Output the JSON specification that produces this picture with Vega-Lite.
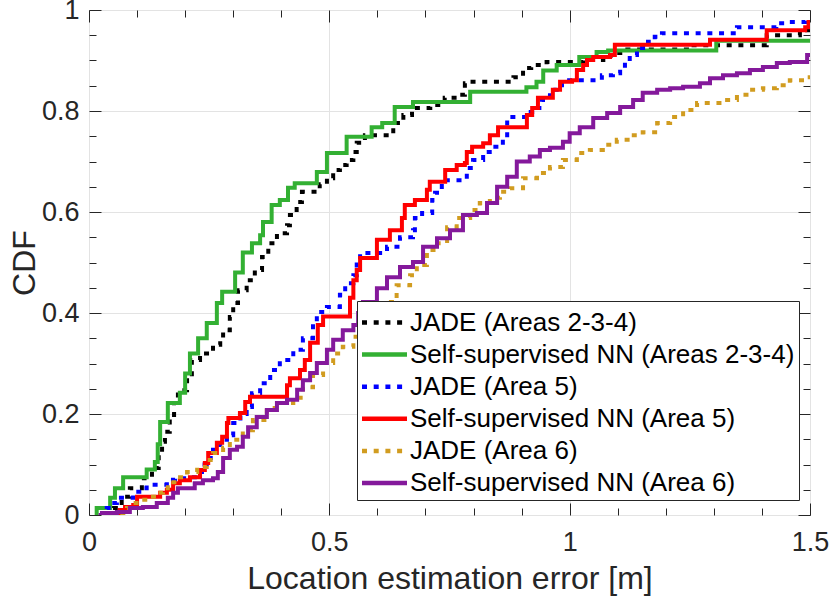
{
  "$schema": "https://vega.github.io/schema/vega-lite/v6.json",
  "autosize": {"type": "none"},
  "padding": {"left": 89, "top": 10, "right": 20, "bottom": 90},
  "width": 721,
  "height": 505,
  "background": "white",
  "config": {
    "view": {"stroke": "#262626", "strokeWidth": 1},
    "font": "Liberation Sans",
    "axis": {"labelFont": "Liberation Sans", "titleFont": "Liberation Sans", "labelColor": "#262626", "titleColor": "#262626", "tickColor": "#262626", "domainColor": "#262626", "titleFontWeight": "normal", "labelFontSize": 27, "titleFontSize": 32, "gridColor": "#e3e3e3", "gridWidth": 1, "labelFlush": false, "labelOverlap": false, "labelBound": false}
  },
  "datasets": {
    "cdf": [
      {"s":"JADE (Areas 2-3-4)","x":0.04,"y":0.0},{"s":"JADE (Areas 2-3-4)","x":0.05,"y":0.014},{"s":"JADE (Areas 2-3-4)","x":0.068,"y":0.036},{"s":"JADE (Areas 2-3-4)","x":0.085,"y":0.053},{"s":"JADE (Areas 2-3-4)","x":0.11,"y":0.073},{"s":"JADE (Areas 2-3-4)","x":0.131,"y":0.093},{"s":"JADE (Areas 2-3-4)","x":0.145,"y":0.12},{"s":"JADE (Areas 2-3-4)","x":0.152,"y":0.145},{"s":"JADE (Areas 2-3-4)","x":0.158,"y":0.165},{"s":"JADE (Areas 2-3-4)","x":0.168,"y":0.198},{"s":"JADE (Areas 2-3-4)","x":0.177,"y":0.222},{"s":"JADE (Areas 2-3-4)","x":0.185,"y":0.247},{"s":"JADE (Areas 2-3-4)","x":0.204,"y":0.273},{"s":"JADE (Areas 2-3-4)","x":0.214,"y":0.307},{"s":"JADE (Areas 2-3-4)","x":0.231,"y":0.32},{"s":"JADE (Areas 2-3-4)","x":0.258,"y":0.337},{"s":"JADE (Areas 2-3-4)","x":0.273,"y":0.35},{"s":"JADE (Areas 2-3-4)","x":0.279,"y":0.366},{"s":"JADE (Areas 2-3-4)","x":0.293,"y":0.392},{"s":"JADE (Areas 2-3-4)","x":0.3,"y":0.42},{"s":"JADE (Areas 2-3-4)","x":0.31,"y":0.445},{"s":"JADE (Areas 2-3-4)","x":0.328,"y":0.465},{"s":"JADE (Areas 2-3-4)","x":0.345,"y":0.485},{"s":"JADE (Areas 2-3-4)","x":0.36,"y":0.511},{"s":"JADE (Areas 2-3-4)","x":0.373,"y":0.538},{"s":"JADE (Areas 2-3-4)","x":0.391,"y":0.558},{"s":"JADE (Areas 2-3-4)","x":0.412,"y":0.574},{"s":"JADE (Areas 2-3-4)","x":0.418,"y":0.594},{"s":"JADE (Areas 2-3-4)","x":0.432,"y":0.62},{"s":"JADE (Areas 2-3-4)","x":0.443,"y":0.64},{"s":"JADE (Areas 2-3-4)","x":0.48,"y":0.655},{"s":"JADE (Areas 2-3-4)","x":0.495,"y":0.667},{"s":"JADE (Areas 2-3-4)","x":0.508,"y":0.683},{"s":"JADE (Areas 2-3-4)","x":0.522,"y":0.693},{"s":"JADE (Areas 2-3-4)","x":0.536,"y":0.703},{"s":"JADE (Areas 2-3-4)","x":0.55,"y":0.719},{"s":"JADE (Areas 2-3-4)","x":0.557,"y":0.737},{"s":"JADE (Areas 2-3-4)","x":0.574,"y":0.752},{"s":"JADE (Areas 2-3-4)","x":0.633,"y":0.776},{"s":"JADE (Areas 2-3-4)","x":0.654,"y":0.792},{"s":"JADE (Areas 2-3-4)","x":0.672,"y":0.806},{"s":"JADE (Areas 2-3-4)","x":0.71,"y":0.812},{"s":"JADE (Areas 2-3-4)","x":0.74,"y":0.826},{"s":"JADE (Areas 2-3-4)","x":0.765,"y":0.832},{"s":"JADE (Areas 2-3-4)","x":0.782,"y":0.855},{"s":"JADE (Areas 2-3-4)","x":0.786,"y":0.858},{"s":"JADE (Areas 2-3-4)","x":0.883,"y":0.867},{"s":"JADE (Areas 2-3-4)","x":0.903,"y":0.885},{"s":"JADE (Areas 2-3-4)","x":0.92,"y":0.891},{"s":"JADE (Areas 2-3-4)","x":0.952,"y":0.897},{"s":"JADE (Areas 2-3-4)","x":1.028,"y":0.901},{"s":"JADE (Areas 2-3-4)","x":1.07,"y":0.91},{"s":"JADE (Areas 2-3-4)","x":1.098,"y":0.915},{"s":"JADE (Areas 2-3-4)","x":1.12,"y":0.922},{"s":"JADE (Areas 2-3-4)","x":1.244,"y":0.93},{"s":"JADE (Areas 2-3-4)","x":1.41,"y":0.95},{"s":"JADE (Areas 2-3-4)","x":1.479,"y":0.96},{"s":"JADE (Areas 2-3-4)","x":1.5,"y":0.964},

      {"s":"Self-supervised NN (Areas 2-3-4)","x":0.015,"y":0.0},{"s":"Self-supervised NN (Areas 2-3-4)","x":0.016,"y":0.014},{"s":"Self-supervised NN (Areas 2-3-4)","x":0.044,"y":0.034},{"s":"Self-supervised NN (Areas 2-3-4)","x":0.054,"y":0.053},{"s":"Self-supervised NN (Areas 2-3-4)","x":0.071,"y":0.075},{"s":"Self-supervised NN (Areas 2-3-4)","x":0.12,"y":0.09},{"s":"Self-supervised NN (Areas 2-3-4)","x":0.137,"y":0.105},{"s":"Self-supervised NN (Areas 2-3-4)","x":0.143,"y":0.14},{"s":"Self-supervised NN (Areas 2-3-4)","x":0.148,"y":0.184},{"s":"Self-supervised NN (Areas 2-3-4)","x":0.164,"y":0.222},{"s":"Self-supervised NN (Areas 2-3-4)","x":0.189,"y":0.242},{"s":"Self-supervised NN (Areas 2-3-4)","x":0.2,"y":0.28},{"s":"Self-supervised NN (Areas 2-3-4)","x":0.21,"y":0.32},{"s":"Self-supervised NN (Areas 2-3-4)","x":0.227,"y":0.35},{"s":"Self-supervised NN (Areas 2-3-4)","x":0.245,"y":0.38},{"s":"Self-supervised NN (Areas 2-3-4)","x":0.266,"y":0.42},{"s":"Self-supervised NN (Areas 2-3-4)","x":0.277,"y":0.442},{"s":"Self-supervised NN (Areas 2-3-4)","x":0.304,"y":0.48},{"s":"Self-supervised NN (Areas 2-3-4)","x":0.32,"y":0.52},{"s":"Self-supervised NN (Areas 2-3-4)","x":0.339,"y":0.538},{"s":"Self-supervised NN (Areas 2-3-4)","x":0.356,"y":0.554},{"s":"Self-supervised NN (Areas 2-3-4)","x":0.362,"y":0.58},{"s":"Self-supervised NN (Areas 2-3-4)","x":0.38,"y":0.614},{"s":"Self-supervised NN (Areas 2-3-4)","x":0.397,"y":0.624},{"s":"Self-supervised NN (Areas 2-3-4)","x":0.414,"y":0.648},{"s":"Self-supervised NN (Areas 2-3-4)","x":0.428,"y":0.657},{"s":"Self-supervised NN (Areas 2-3-4)","x":0.474,"y":0.679},{"s":"Self-supervised NN (Areas 2-3-4)","x":0.495,"y":0.717},{"s":"Self-supervised NN (Areas 2-3-4)","x":0.536,"y":0.749},{"s":"Self-supervised NN (Areas 2-3-4)","x":0.588,"y":0.768},{"s":"Self-supervised NN (Areas 2-3-4)","x":0.61,"y":0.776},{"s":"Self-supervised NN (Areas 2-3-4)","x":0.636,"y":0.808},{"s":"Self-supervised NN (Areas 2-3-4)","x":0.674,"y":0.818},{"s":"Self-supervised NN (Areas 2-3-4)","x":0.793,"y":0.838},{"s":"Self-supervised NN (Areas 2-3-4)","x":0.91,"y":0.847},{"s":"Self-supervised NN (Areas 2-3-4)","x":0.931,"y":0.858},{"s":"Self-supervised NN (Areas 2-3-4)","x":0.945,"y":0.88},{"s":"Self-supervised NN (Areas 2-3-4)","x":0.973,"y":0.891},{"s":"Self-supervised NN (Areas 2-3-4)","x":1.02,"y":0.907},{"s":"Self-supervised NN (Areas 2-3-4)","x":1.056,"y":0.917},{"s":"Self-supervised NN (Areas 2-3-4)","x":1.08,"y":0.92},{"s":"Self-supervised NN (Areas 2-3-4)","x":1.305,"y":0.939},{"s":"Self-supervised NN (Areas 2-3-4)","x":1.5,"y":0.939},

      {"s":"JADE (Area 5)","x":0.025,"y":0.0},{"s":"JADE (Area 5)","x":0.037,"y":0.014},{"s":"JADE (Area 5)","x":0.048,"y":0.024},{"s":"JADE (Area 5)","x":0.058,"y":0.034},{"s":"JADE (Area 5)","x":0.092,"y":0.046},{"s":"JADE (Area 5)","x":0.11,"y":0.053},{"s":"JADE (Area 5)","x":0.12,"y":0.06},{"s":"JADE (Area 5)","x":0.162,"y":0.07},{"s":"JADE (Area 5)","x":0.179,"y":0.073},{"s":"JADE (Area 5)","x":0.21,"y":0.075},{"s":"JADE (Area 5)","x":0.227,"y":0.085},{"s":"JADE (Area 5)","x":0.235,"y":0.1},{"s":"JADE (Area 5)","x":0.245,"y":0.113},{"s":"JADE (Area 5)","x":0.258,"y":0.129},{"s":"JADE (Area 5)","x":0.273,"y":0.149},{"s":"JADE (Area 5)","x":0.287,"y":0.158},{"s":"JADE (Area 5)","x":0.3,"y":0.182},{"s":"JADE (Area 5)","x":0.315,"y":0.2},{"s":"JADE (Area 5)","x":0.328,"y":0.214},{"s":"JADE (Area 5)","x":0.339,"y":0.241},{"s":"JADE (Area 5)","x":0.356,"y":0.261},{"s":"JADE (Area 5)","x":0.377,"y":0.287},{"s":"JADE (Area 5)","x":0.397,"y":0.307},{"s":"JADE (Area 5)","x":0.425,"y":0.327},{"s":"JADE (Area 5)","x":0.445,"y":0.35},{"s":"JADE (Area 5)","x":0.466,"y":0.382},{"s":"JADE (Area 5)","x":0.474,"y":0.402},{"s":"JADE (Area 5)","x":0.495,"y":0.412},{"s":"JADE (Area 5)","x":0.522,"y":0.436},{"s":"JADE (Area 5)","x":0.533,"y":0.459},{"s":"JADE (Area 5)","x":0.55,"y":0.475},{"s":"JADE (Area 5)","x":0.557,"y":0.501},{"s":"JADE (Area 5)","x":0.564,"y":0.519},{"s":"JADE (Area 5)","x":0.62,"y":0.531},{"s":"JADE (Area 5)","x":0.647,"y":0.55},{"s":"JADE (Area 5)","x":0.674,"y":0.564},{"s":"JADE (Area 5)","x":0.678,"y":0.588},{"s":"JADE (Area 5)","x":0.693,"y":0.598},{"s":"JADE (Area 5)","x":0.714,"y":0.624},{"s":"JADE (Area 5)","x":0.72,"y":0.638},{"s":"JADE (Area 5)","x":0.734,"y":0.663},{"s":"JADE (Area 5)","x":0.786,"y":0.687},{"s":"JADE (Area 5)","x":0.799,"y":0.703},{"s":"JADE (Area 5)","x":0.82,"y":0.719},{"s":"JADE (Area 5)","x":0.84,"y":0.729},{"s":"JADE (Area 5)","x":0.861,"y":0.752},{"s":"JADE (Area 5)","x":0.87,"y":0.788},{"s":"JADE (Area 5)","x":0.907,"y":0.798},{"s":"JADE (Area 5)","x":0.922,"y":0.806},{"s":"JADE (Area 5)","x":0.942,"y":0.822},{"s":"JADE (Area 5)","x":0.959,"y":0.842},{"s":"JADE (Area 5)","x":0.973,"y":0.851},{"s":"JADE (Area 5)","x":0.984,"y":0.861},{"s":"JADE (Area 5)","x":1.067,"y":0.871},{"s":"JADE (Area 5)","x":1.09,"y":0.875},{"s":"JADE (Area 5)","x":1.105,"y":0.885},{"s":"JADE (Area 5)","x":1.115,"y":0.897},{"s":"JADE (Area 5)","x":1.125,"y":0.911},{"s":"JADE (Area 5)","x":1.14,"y":0.925},{"s":"JADE (Area 5)","x":1.163,"y":0.937},{"s":"JADE (Area 5)","x":1.177,"y":0.947},{"s":"JADE (Area 5)","x":1.192,"y":0.954},{"s":"JADE (Area 5)","x":1.348,"y":0.966},{"s":"JADE (Area 5)","x":1.43,"y":0.974},{"s":"JADE (Area 5)","x":1.458,"y":0.976},{"s":"JADE (Area 5)","x":1.49,"y":0.98},{"s":"JADE (Area 5)","x":1.5,"y":0.98},

      {"s":"Self-supervised NN (Area 5)","x":0.055,"y":0.0},{"s":"Self-supervised NN (Area 5)","x":0.064,"y":0.01},{"s":"Self-supervised NN (Area 5)","x":0.075,"y":0.016},{"s":"Self-supervised NN (Area 5)","x":0.092,"y":0.02},{"s":"Self-supervised NN (Area 5)","x":0.1,"y":0.036},{"s":"Self-supervised NN (Area 5)","x":0.148,"y":0.044},{"s":"Self-supervised NN (Area 5)","x":0.162,"y":0.05},{"s":"Self-supervised NN (Area 5)","x":0.175,"y":0.063},{"s":"Self-supervised NN (Area 5)","x":0.189,"y":0.069},{"s":"Self-supervised NN (Area 5)","x":0.21,"y":0.075},{"s":"Self-supervised NN (Area 5)","x":0.231,"y":0.089},{"s":"Self-supervised NN (Area 5)","x":0.241,"y":0.103},{"s":"Self-supervised NN (Area 5)","x":0.248,"y":0.123},{"s":"Self-supervised NN (Area 5)","x":0.266,"y":0.143},{"s":"Self-supervised NN (Area 5)","x":0.277,"y":0.155},{"s":"Self-supervised NN (Area 5)","x":0.287,"y":0.182},{"s":"Self-supervised NN (Area 5)","x":0.29,"y":0.192},{"s":"Self-supervised NN (Area 5)","x":0.314,"y":0.202},{"s":"Self-supervised NN (Area 5)","x":0.325,"y":0.224},{"s":"Self-supervised NN (Area 5)","x":0.335,"y":0.234},{"s":"Self-supervised NN (Area 5)","x":0.412,"y":0.257},{"s":"Self-supervised NN (Area 5)","x":0.418,"y":0.271},{"s":"Self-supervised NN (Area 5)","x":0.439,"y":0.287},{"s":"Self-supervised NN (Area 5)","x":0.449,"y":0.307},{"s":"Self-supervised NN (Area 5)","x":0.46,"y":0.341},{"s":"Self-supervised NN (Area 5)","x":0.476,"y":0.376},{"s":"Self-supervised NN (Area 5)","x":0.487,"y":0.393},{"s":"Self-supervised NN (Area 5)","x":0.543,"y":0.43},{"s":"Self-supervised NN (Area 5)","x":0.55,"y":0.465},{"s":"Self-supervised NN (Area 5)","x":0.557,"y":0.485},{"s":"Self-supervised NN (Area 5)","x":0.564,"y":0.509},{"s":"Self-supervised NN (Area 5)","x":0.599,"y":0.545},{"s":"Self-supervised NN (Area 5)","x":0.626,"y":0.564},{"s":"Self-supervised NN (Area 5)","x":0.651,"y":0.588},{"s":"Self-supervised NN (Area 5)","x":0.657,"y":0.614},{"s":"Self-supervised NN (Area 5)","x":0.678,"y":0.624},{"s":"Self-supervised NN (Area 5)","x":0.703,"y":0.644},{"s":"Self-supervised NN (Area 5)","x":0.709,"y":0.66},{"s":"Self-supervised NN (Area 5)","x":0.741,"y":0.683},{"s":"Self-supervised NN (Area 5)","x":0.765,"y":0.693},{"s":"Self-supervised NN (Area 5)","x":0.782,"y":0.697},{"s":"Self-supervised NN (Area 5)","x":0.786,"y":0.719},{"s":"Self-supervised NN (Area 5)","x":0.797,"y":0.729},{"s":"Self-supervised NN (Area 5)","x":0.82,"y":0.736},{"s":"Self-supervised NN (Area 5)","x":0.834,"y":0.752},{"s":"Self-supervised NN (Area 5)","x":0.851,"y":0.768},{"s":"Self-supervised NN (Area 5)","x":0.911,"y":0.792},{"s":"Self-supervised NN (Area 5)","x":0.922,"y":0.806},{"s":"Self-supervised NN (Area 5)","x":0.934,"y":0.826},{"s":"Self-supervised NN (Area 5)","x":0.965,"y":0.842},{"s":"Self-supervised NN (Area 5)","x":0.98,"y":0.858},{"s":"Self-supervised NN (Area 5)","x":1.005,"y":0.861},{"s":"Self-supervised NN (Area 5)","x":1.015,"y":0.881},{"s":"Self-supervised NN (Area 5)","x":1.028,"y":0.891},{"s":"Self-supervised NN (Area 5)","x":1.036,"y":0.901},{"s":"Self-supervised NN (Area 5)","x":1.049,"y":0.907},{"s":"Self-supervised NN (Area 5)","x":1.084,"y":0.911},{"s":"Self-supervised NN (Area 5)","x":1.094,"y":0.931},{"s":"Self-supervised NN (Area 5)","x":1.292,"y":0.941},{"s":"Self-supervised NN (Area 5)","x":1.41,"y":0.96},{"s":"Self-supervised NN (Area 5)","x":1.49,"y":0.966},{"s":"Self-supervised NN (Area 5)","x":1.497,"y":0.976},{"s":"Self-supervised NN (Area 5)","x":1.5,"y":0.976},

      {"s":"JADE (Area 6)","x":0.045,"y":0.0},{"s":"JADE (Area 6)","x":0.058,"y":0.004},{"s":"JADE (Area 6)","x":0.079,"y":0.014},{"s":"JADE (Area 6)","x":0.092,"y":0.024},{"s":"JADE (Area 6)","x":0.11,"y":0.03},{"s":"JADE (Area 6)","x":0.127,"y":0.036},{"s":"JADE (Area 6)","x":0.143,"y":0.044},{"s":"JADE (Area 6)","x":0.154,"y":0.053},{"s":"JADE (Area 6)","x":0.164,"y":0.065},{"s":"JADE (Area 6)","x":0.185,"y":0.075},{"s":"JADE (Area 6)","x":0.204,"y":0.085},{"s":"JADE (Area 6)","x":0.225,"y":0.095},{"s":"JADE (Area 6)","x":0.245,"y":0.109},{"s":"JADE (Area 6)","x":0.258,"y":0.123},{"s":"JADE (Area 6)","x":0.279,"y":0.133},{"s":"JADE (Area 6)","x":0.293,"y":0.149},{"s":"JADE (Area 6)","x":0.32,"y":0.168},{"s":"JADE (Area 6)","x":0.341,"y":0.188},{"s":"JADE (Area 6)","x":0.37,"y":0.212},{"s":"JADE (Area 6)","x":0.397,"y":0.222},{"s":"JADE (Area 6)","x":0.425,"y":0.232},{"s":"JADE (Area 6)","x":0.445,"y":0.253},{"s":"JADE (Area 6)","x":0.466,"y":0.277},{"s":"JADE (Area 6)","x":0.487,"y":0.301},{"s":"JADE (Area 6)","x":0.508,"y":0.32},{"s":"JADE (Area 6)","x":0.528,"y":0.333},{"s":"JADE (Area 6)","x":0.55,"y":0.353},{"s":"JADE (Area 6)","x":0.58,"y":0.39},{"s":"JADE (Area 6)","x":0.612,"y":0.422},{"s":"JADE (Area 6)","x":0.64,"y":0.455},{"s":"JADE (Area 6)","x":0.668,"y":0.475},{"s":"JADE (Area 6)","x":0.682,"y":0.495},{"s":"JADE (Area 6)","x":0.703,"y":0.525},{"s":"JADE (Area 6)","x":0.724,"y":0.538},{"s":"JADE (Area 6)","x":0.745,"y":0.57},{"s":"JADE (Area 6)","x":0.765,"y":0.588},{"s":"JADE (Area 6)","x":0.793,"y":0.604},{"s":"JADE (Area 6)","x":0.813,"y":0.618},{"s":"JADE (Area 6)","x":0.834,"y":0.628},{"s":"JADE (Area 6)","x":0.855,"y":0.64},{"s":"JADE (Area 6)","x":0.876,"y":0.647},{"s":"JADE (Area 6)","x":0.903,"y":0.667},{"s":"JADE (Area 6)","x":0.932,"y":0.677},{"s":"JADE (Area 6)","x":0.959,"y":0.689},{"s":"JADE (Area 6)","x":0.986,"y":0.703},{"s":"JADE (Area 6)","x":1.015,"y":0.717},{"s":"JADE (Area 6)","x":1.042,"y":0.723},{"s":"JADE (Area 6)","x":1.069,"y":0.733},{"s":"JADE (Area 6)","x":1.098,"y":0.743},{"s":"JADE (Area 6)","x":1.125,"y":0.752},{"s":"JADE (Area 6)","x":1.152,"y":0.758},{"s":"JADE (Area 6)","x":1.182,"y":0.776},{"s":"JADE (Area 6)","x":1.209,"y":0.788},{"s":"JADE (Area 6)","x":1.236,"y":0.802},{"s":"JADE (Area 6)","x":1.265,"y":0.816},{"s":"JADE (Area 6)","x":1.319,"y":0.822},{"s":"JADE (Area 6)","x":1.348,"y":0.832},{"s":"JADE (Area 6)","x":1.375,"y":0.842},{"s":"JADE (Area 6)","x":1.402,"y":0.845},{"s":"JADE (Area 6)","x":1.431,"y":0.851},{"s":"JADE (Area 6)","x":1.458,"y":0.861},{"s":"JADE (Area 6)","x":1.494,"y":0.867},{"s":"JADE (Area 6)","x":1.5,"y":0.867},

      {"s":"Self-supervised NN (Area 6)","x":0.02,"y":0.0},{"s":"Self-supervised NN (Area 6)","x":0.027,"y":0.004},{"s":"Self-supervised NN (Area 6)","x":0.058,"y":0.006},{"s":"Self-supervised NN (Area 6)","x":0.085,"y":0.014},{"s":"Self-supervised NN (Area 6)","x":0.112,"y":0.016},{"s":"Self-supervised NN (Area 6)","x":0.141,"y":0.024},{"s":"Self-supervised NN (Area 6)","x":0.164,"y":0.034},{"s":"Self-supervised NN (Area 6)","x":0.175,"y":0.044},{"s":"Self-supervised NN (Area 6)","x":0.185,"y":0.053},{"s":"Self-supervised NN (Area 6)","x":0.22,"y":0.063},{"s":"Self-supervised NN (Area 6)","x":0.237,"y":0.069},{"s":"Self-supervised NN (Area 6)","x":0.258,"y":0.073},{"s":"Self-supervised NN (Area 6)","x":0.268,"y":0.085},{"s":"Self-supervised NN (Area 6)","x":0.279,"y":0.113},{"s":"Self-supervised NN (Area 6)","x":0.293,"y":0.129},{"s":"Self-supervised NN (Area 6)","x":0.308,"y":0.135},{"s":"Self-supervised NN (Area 6)","x":0.32,"y":0.155},{"s":"Self-supervised NN (Area 6)","x":0.331,"y":0.174},{"s":"Self-supervised NN (Area 6)","x":0.349,"y":0.194},{"s":"Self-supervised NN (Area 6)","x":0.37,"y":0.208},{"s":"Self-supervised NN (Area 6)","x":0.391,"y":0.222},{"s":"Self-supervised NN (Area 6)","x":0.412,"y":0.228},{"s":"Self-supervised NN (Area 6)","x":0.433,"y":0.248},{"s":"Self-supervised NN (Area 6)","x":0.445,"y":0.267},{"s":"Self-supervised NN (Area 6)","x":0.46,"y":0.281},{"s":"Self-supervised NN (Area 6)","x":0.474,"y":0.301},{"s":"Self-supervised NN (Area 6)","x":0.495,"y":0.327},{"s":"Self-supervised NN (Area 6)","x":0.508,"y":0.347},{"s":"Self-supervised NN (Area 6)","x":0.528,"y":0.366},{"s":"Self-supervised NN (Area 6)","x":0.55,"y":0.376},{"s":"Self-supervised NN (Area 6)","x":0.56,"y":0.4},{"s":"Self-supervised NN (Area 6)","x":0.57,"y":0.422},{"s":"Self-supervised NN (Area 6)","x":0.599,"y":0.449},{"s":"Self-supervised NN (Area 6)","x":0.62,"y":0.471},{"s":"Self-supervised NN (Area 6)","x":0.647,"y":0.491},{"s":"Self-supervised NN (Area 6)","x":0.674,"y":0.501},{"s":"Self-supervised NN (Area 6)","x":0.695,"y":0.531},{"s":"Self-supervised NN (Area 6)","x":0.724,"y":0.548},{"s":"Self-supervised NN (Area 6)","x":0.751,"y":0.564},{"s":"Self-supervised NN (Area 6)","x":0.778,"y":0.594},{"s":"Self-supervised NN (Area 6)","x":0.807,"y":0.598},{"s":"Self-supervised NN (Area 6)","x":0.828,"y":0.618},{"s":"Self-supervised NN (Area 6)","x":0.849,"y":0.65},{"s":"Self-supervised NN (Area 6)","x":0.87,"y":0.67},{"s":"Self-supervised NN (Area 6)","x":0.89,"y":0.7},{"s":"Self-supervised NN (Area 6)","x":0.917,"y":0.71},{"s":"Self-supervised NN (Area 6)","x":0.938,"y":0.723},{"s":"Self-supervised NN (Area 6)","x":0.959,"y":0.727},{"s":"Self-supervised NN (Area 6)","x":0.986,"y":0.739},{"s":"Self-supervised NN (Area 6)","x":1.0,"y":0.756},{"s":"Self-supervised NN (Area 6)","x":1.021,"y":0.768},{"s":"Self-supervised NN (Area 6)","x":1.049,"y":0.786},{"s":"Self-supervised NN (Area 6)","x":1.078,"y":0.796},{"s":"Self-supervised NN (Area 6)","x":1.105,"y":0.808},{"s":"Self-supervised NN (Area 6)","x":1.132,"y":0.822},{"s":"Self-supervised NN (Area 6)","x":1.152,"y":0.836},{"s":"Self-supervised NN (Area 6)","x":1.182,"y":0.842},{"s":"Self-supervised NN (Area 6)","x":1.209,"y":0.845},{"s":"Self-supervised NN (Area 6)","x":1.236,"y":0.848},{"s":"Self-supervised NN (Area 6)","x":1.271,"y":0.855},{"s":"Self-supervised NN (Area 6)","x":1.292,"y":0.865},{"s":"Self-supervised NN (Area 6)","x":1.319,"y":0.871},{"s":"Self-supervised NN (Area 6)","x":1.348,"y":0.875},{"s":"Self-supervised NN (Area 6)","x":1.375,"y":0.881},{"s":"Self-supervised NN (Area 6)","x":1.402,"y":0.887},{"s":"Self-supervised NN (Area 6)","x":1.431,"y":0.895},{"s":"Self-supervised NN (Area 6)","x":1.458,"y":0.897},{"s":"Self-supervised NN (Area 6)","x":1.494,"y":0.911},{"s":"Self-supervised NN (Area 6)","x":1.5,"y":0.911}
    ]
  },
  "data": {"name": "cdf"},
  "resolve": {"axis": {"x": "independent", "y": "independent"}},
  "layer": [
    {
      "mark": {"type": "line", "interpolate": "step-after", "strokeWidth": 4, "strokeCap": "butt", "clip": true},
      "encoding": {
        "x": {"field": "x", "type": "quantitative", "scale": {"domain": [0, 1.5], "nice": false, "zero": false},
              "axis": {"orient": "bottom", "values": [0, 0.5, 1, 1.5], "grid": true, "tickSize": -12, "labelPadding": 26, "labelExpr": "datum.value == 0 ? '0' : format(datum.value, '.1~f')", "title": "Location estimation error [m]", "titlePadding": 8, "domain": false}},
        "y": {"field": "y", "type": "quantitative", "scale": {"domain": [0, 1], "nice": false},
              "axis": {"orient": "left", "values": [0, 0.2, 0.4, 0.6, 0.8, 1], "grid": true, "tickSize": -12, "labelPadding": 22, "labelExpr": "datum.value == 0 ? '0' : datum.value == 1 ? '1' : format(datum.value, '.1f')", "title": "CDF", "titlePadding": 0, "domain": false}},
        "color": {"field": "s", "type": "nominal", "sort": null,
                  "scale": {"domain": ["JADE (Areas 2-3-4)", "Self-supervised NN (Areas 2-3-4)", "JADE (Area 5)", "Self-supervised NN (Area 5)", "JADE (Area 6)", "Self-supervised NN (Area 6)"],
                            "range": ["#000000", "#33b033", "#0000ff", "#ff0000", "#d19c20", "#84199b"]},
                  "legend": {"orient": "none", "legendX": 268, "legendY": 291, "title": null, "symbolType": "M-1.1,0H1.9", "symbolSize": 900, "symbolStrokeWidth": 4.5, "symbolFillColor": "transparent", "labelFont": "Liberation Sans", "labelFontSize": 26, "labelColor": "#000000", "labelOffset": 14, "rowPadding": 1.1, "padding": 4, "strokeColor": "#262626", "fillColor": "white", "labelLimit": 500}},
        "strokeDash": {"field": "s", "type": "nominal", "sort": null,
                       "scale": {"domain": ["JADE (Areas 2-3-4)", "Self-supervised NN (Areas 2-3-4)", "JADE (Area 5)", "Self-supervised NN (Area 5)", "JADE (Area 6)", "Self-supervised NN (Area 6)"],
                                 "range": [[5, 6.7], [1, 0], [5, 6.7], [1, 0], [5, 6.7], [1, 0]]}}
      }
    },
    {
      "mark": {"type": "point", "opacity": 0},
      "encoding": {
        "x": {"field": "x", "type": "quantitative", "axis": {"orient": "bottom", "values": [0.1, 0.2, 0.3, 0.4, 0.6, 0.7, 0.8, 0.9, 1.1, 1.2, 1.3, 1.4], "tickSize": -7, "labels": false, "grid": false, "domain": false, "title": null}},
        "y": {"field": "y", "type": "quantitative", "axis": {"orient": "left", "values": [0.05, 0.1, 0.15, 0.25, 0.3, 0.35, 0.45, 0.5, 0.55, 0.65, 0.7, 0.75, 0.85, 0.9, 0.95], "tickSize": -7, "labels": false, "grid": false, "domain": false, "title": null}}
      }
    },
    {
      "mark": {"type": "point", "opacity": 0},
      "encoding": {
        "x": {"field": "x", "type": "quantitative", "axis": {"orient": "top", "values": [0, 0.5, 1, 1.5], "tickSize": -12, "labels": false, "grid": false, "domain": false, "title": null}},
        "y": {"field": "y", "type": "quantitative", "axis": {"orient": "right", "values": [0, 0.2, 0.4, 0.6, 0.8, 1], "tickSize": -12, "labels": false, "grid": false, "domain": false, "title": null}}
      }
    },
    {
      "mark": {"type": "point", "opacity": 0},
      "encoding": {
        "x": {"field": "x", "type": "quantitative", "axis": {"orient": "top", "values": [0.1, 0.2, 0.3, 0.4, 0.6, 0.7, 0.8, 0.9, 1.1, 1.2, 1.3, 1.4], "tickSize": -7, "labels": false, "grid": false, "domain": false, "title": null}},
        "y": {"field": "y", "type": "quantitative", "axis": {"orient": "right", "values": [0.05, 0.1, 0.15, 0.25, 0.3, 0.35, 0.45, 0.5, 0.55, 0.65, 0.7, 0.75, 0.85, 0.9, 0.95], "tickSize": -7, "labels": false, "grid": false, "domain": false, "title": null}}
      }
    }
  ]
}
